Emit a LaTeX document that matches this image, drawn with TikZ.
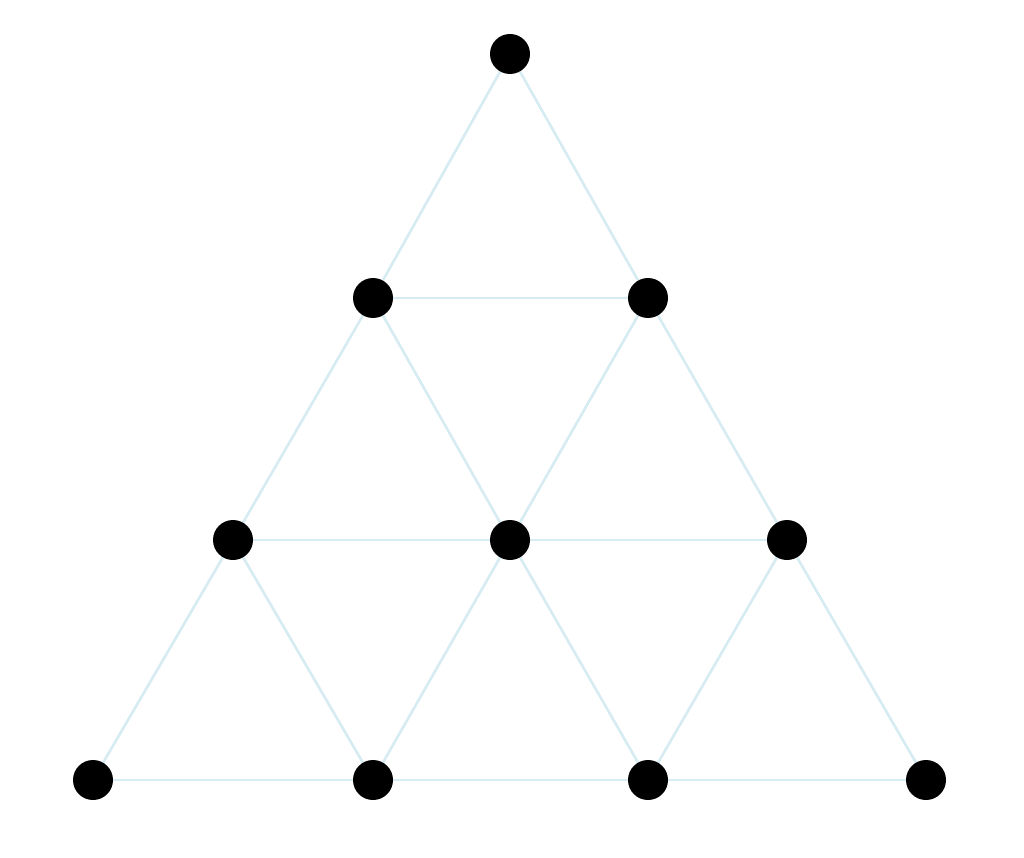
\documentclass[tikz,border=0pt]{standalone}
\usetikzlibrary{backgrounds}
\begin{document}
\begin{tikzpicture}[x=1pt,y=-1pt,
  dot/.style={circle,fill=black,minimum size=40pt,inner sep=0pt},
  edge/.style={draw={rgb,255:red,214;green,236;blue,242},line width=2.6pt}]
\useasboundingbox (0,0) rectangle (1024,858);
\node[dot] (a) at (510,54) {};
\node[dot] (b1) at (373,298) {};
\node[dot] (b2) at (648,298) {};
\node[dot] (c1) at (233,540) {};
\node[dot] (c2) at (510,540) {};
\node[dot] (c3) at (787,540) {};
\node[dot] (d1) at (93,780) {};
\node[dot] (d2) at (373,780) {};
\node[dot] (d3) at (648,780) {};
\node[dot] (d4) at (926,780) {};
\begin{scope}[on background layer]
\fill[white] (0,0) rectangle (1024,858);
\foreach \p/\q in {a/b1,a/b2,b1/b2,b1/c1,b1/c2,b2/c2,b2/c3,c1/c2,c2/c3,
  c1/d1,c1/d2,c2/d2,c2/d3,c3/d3,c3/d4,d1/d2,d2/d3,d3/d4}
  \draw[edge] (\p.center) -- (\q.center);
\end{scope}
\end{tikzpicture}
\end{document}
